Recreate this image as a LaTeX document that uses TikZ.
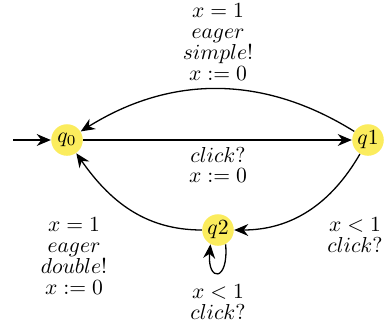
\documentclass[tikz,border=0pt]{standalone}
\usepackage{amsmath}
\usepackage{xcolor}
\usepackage{tikz}
\usetikzlibrary{arrows.meta,positioning}
\definecolor{locYellow}{RGB}{251,236,93}

\begin{document}
\begin{tikzpicture}[x=0.01627cm,y=-0.01627cm,
    loc/.style={circle, fill=locYellow, minimum size=14.6pt, inner sep=0pt},
    trans/.style={-{Stealth[length=6.5pt,width=5.5pt]}, line width=0.6pt},
    guard/.style={align=center, font=\fontsize{10}{9.7}\selectfont}]

    % fixed frame
    \useasboundingbox (0,0) rectangle (386,327);

    % locations
    \node[loc] (q0) at (67,140) {$q_0$};
    \node[loc] (q1) at (368,140) {$q1$};
    \node[loc] (q2) at (218,230) {$q2$};

    % initial arrow
    \coordinate (init) at (13,140);
    \draw[trans] (init) -- (q0);

    % transitions
    \draw[trans] (q0) -- (q1);
    \draw[trans] (q1) to[bend right=32] (q0);
    \draw[trans] (q1) to[out=-120,in=0] (q2);
    \draw[trans] (q2) to[out=180,in=-55] (q0);
    \draw[trans] (q2.-62) to[out=-85,in=-95,distance=0.62cm] (q2.-118);

    % guards, syncs and resets
    \node[guard] (lblTop) at (218,42) {$x = 1$\\$eager$\\$simple!$\\$x := 0$};
    \node[guard] (lblMid) at (218,165) {$click?$\\$x := 0$};
    \node[guard] (lblLeft) at (74,256) {$x = 1$\\$eager$\\$double!$\\$x := 0$};
    \node[guard] (lblRight) at (355,235) {$x < 1$\\$click?$};
    \node[guard] (lblLoop) at (218,302) {$x < 1$\\$click?$};

\end{tikzpicture}
\end{document}
